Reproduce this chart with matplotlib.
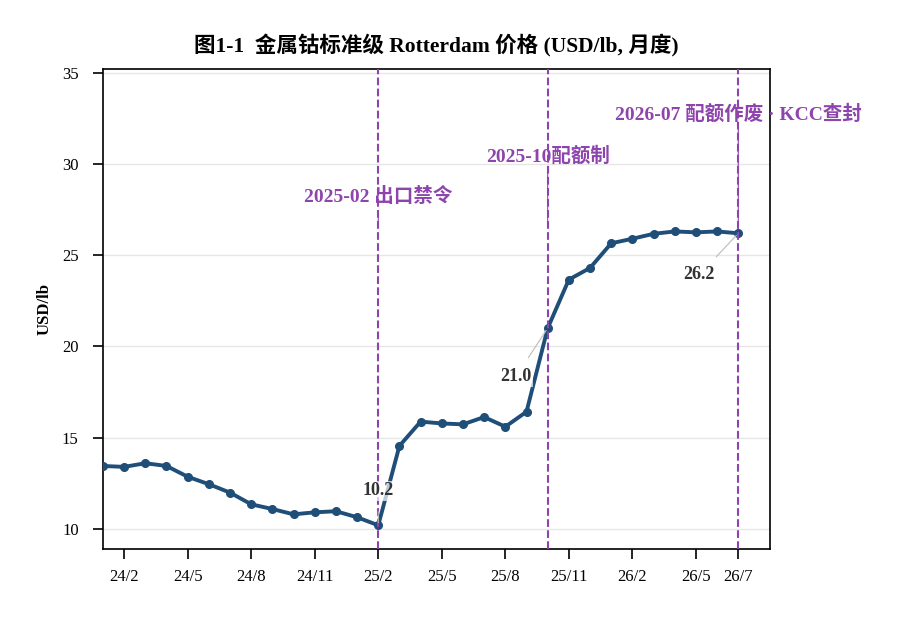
import matplotlib
matplotlib.use("Agg")
import matplotlib.pyplot as plt

plt.rcParams["font.family"] = ["Liberation Serif", "Noto Sans CJK SC", "DejaVu Sans"]

# ── 数据 ─────────────────────────────────────────────
months = ["24/1", "24/2", "24/3", "24/4", "24/5", "24/6", "24/7", "24/8", "24/9", "24/10",
          "24/11", "24/12", "25/1", "25/2", "25/3", "25/4", "25/5", "25/6", "25/7", "25/8",
          "25/9", "25/10", "25/11", "25/12", "26/1", "26/2", "26/3", "26/4", "26/5", "26/6",
          "26/7"]
prices = [13.45, 13.4, 13.6, 13.45, 12.86, 12.45, 11.99, 11.35, 11.09, 10.8,
          10.91, 10.97, 10.64, 10.2, 14.55, 15.88, 15.78, 15.73, 16.13, 15.6,
          16.42, 21.0, 23.66, 24.3, 25.65, 25.9, 26.17, 26.3, 26.25, 26.3,
          26.2]
tick_labels = ["24/2", "24/5", "24/8", "24/11", "25/2", "25/5", "25/8", "25/11", "26/2", "26/5", "26/7"]

events = ["25/2", "25/10", "26/7"]
event_texts = ["2025-02 出口禁令", "2025-10配额制", "2026-07 配额作废 · KCC查封"]
event_text_y = [28.2, 30.45, 32.75]
event_arrow_y = [26.5, 26.6, 26.3]

value_labels = ["25/2", "25/10", "26/7"]

LINE = "#1f4e79"
PURPLE = "#8e44ad"

x = list(range(len(months)))
idx = {m: i for i, m in enumerate(months)}

fig = plt.figure(figsize=(9, 6.2), dpi=100)
ax = fig.add_axes([0.1144, 0.1145, 0.7412, 0.7742])

ax.plot(x, prices, color=LINE, linewidth=2.8, marker="o", markersize=5.5, zorder=3)

for m, txt, ty, ay in zip(events, event_texts, event_text_y, event_arrow_y):
    ax.axvline(idx[m], color=PURPLE, linestyle="--", linewidth=1.5, zorder=5)
    ax.annotate(txt, xy=(idx[m], ay), xytext=(idx[m], ty),
                ha="center", va="center", fontsize=14, fontweight="bold", color=PURPLE,
                arrowprops=dict(arrowstyle="-", color=PURPLE, lw=0.8), zorder=4)

offsets = {"25/2": (0, 25), "25/10": (-23, -35), "26/7": (-28, -30)}
for m in value_labels:
    i = idx[m]
    ax.annotate(f"{prices[i]:.1f}", xy=(i, prices[i]), xytext=offsets[m],
                textcoords="offset points", ha="center", va="center",
                fontsize=13, fontweight="bold", color="#333333",
                bbox=dict(fc="white", ec="none", alpha=0.7, pad=1),
                arrowprops=dict(arrowstyle="-", color="#bbbbbb", lw=0.8,
                                shrinkA=8, shrinkB=2), zorder=6)

ax.set_xlim(0, 31.5)
ax.set_ylim(8.9, 35.2)
ax.set_xticks([idx[t] for t in tick_labels])
ax.set_xticklabels(tick_labels, fontsize=12)
ax.set_yticks([10, 15, 20, 25, 30, 35])
ax.tick_params(axis="y", labelsize=12, length=7.5, width=1.2, pad=10)
ax.tick_params(axis="x", length=7.5, width=1.2, pad=7)
ax.grid(axis="y", color="#e6e6e6", linewidth=1)
ax.set_axisbelow(True)
for s in ax.spines.values():
    s.set_linewidth(1.2)

ax.set_ylabel("USD/lb", fontsize=12, fontweight="bold", labelpad=7)
ax.set_title("图1-1  金属钴标准级 Rotterdam 价格 (USD/lb, 月度)",
             fontsize=15.5, fontweight="bold", pad=12)

fig.savefig("out.png", dpi=100)
